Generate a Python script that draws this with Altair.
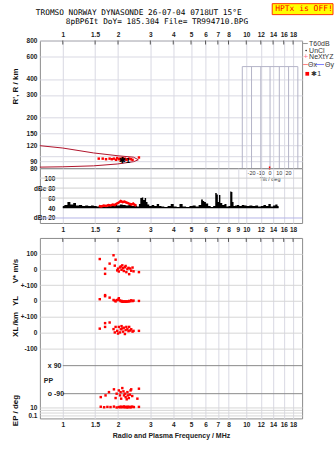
import math
import altair as alt
import pandas as pd

# ---------------- data ----------------
FREQ_TICKS = [1, 1.5, 2, 3, 4, 5, 6, 7, 8, 10, 12, 14, 16, 18]
FREQ_TICKS_DB = [1, 1.5, 2, 3, 4, 5, 6, 7, 8, 9, 10, 12, 14, 16, 18]
R_TICKS = [80, 90, 100, 120, 150, 200, 300, 400, 600, 800]
DB_TICKS = [20, 40, 60, 80, 100]
DB_LABELS = ["dBn 20", "40", "60", "dBe 80", "100"]
B_TICKS = [500, 400, 300, 200, 100, 0, -100, -474, -527]
B_LABELS = ["100", "0", "+-100", "0", "+-100", "0", "-100", "10", "0.1"]

# virtual-height trace (two branches)
UP_F = [0.75, 1.0, 1.47, 2.0, 2.43, 2.58]
UP_R = [120, 115, 105.3, 100, 97.5, 93]
LO_F = [0.75, 1.0, 1.47, 1.99, 2.43, 2.58]
LO_R = [81.5, 82, 83.4, 86.3, 89.9, 93]

# echoes in height panel
TOP_F = [1.57, 1.65, 1.72, 1.80, 1.85, 1.90, 1.95, 1.98, 2.02, 2.05, 2.08, 2.12, 2.15, 2.18, 2.22, 2.25, 2.30, 2.35, 2.40, 2.60]
TOP_R = [95, 95, 94, 95, 94, 95, 93, 96, 94, 95, 93, 96, 94, 95, 93, 94, 95, 94, 93, 97]

# amplitude (dB) trace
NOISE_F = [1.00, 1.04, 1.08, 1.12, 1.16, 1.20, 1.25, 1.30, 1.35, 1.40, 1.45, 1.50, 1.56, 1.62, 1.68,
           1.74, 1.80, 1.87, 1.94, 2.01, 2.08, 2.16, 2.24, 2.32, 2.40, 2.49, 2.58, 2.62, 2.67, 2.72,
           2.77, 2.82, 2.87, 2.92, 3.0, 3.1, 3.2, 3.3, 3.4, 3.5, 3.65, 3.8, 3.95, 4.1, 4.25,
           4.4, 4.6, 4.8, 5.0, 5.2, 5.4, 5.6, 5.75, 5.85, 5.95, 6.1, 6.3, 6.5, 6.7, 6.85,
           6.95, 7.05, 7.15, 7.3, 7.5, 7.7, 7.9, 8.1, 8.25, 8.35, 8.45, 8.6, 8.8, 9.0, 9.3,
           9.6, 9.9, 10.2, 10.6, 11.0, 11.4, 11.8, 12.2, 12.6, 13.0, 13.4, 13.8, 14.2, 14.6, 15.0]
NOISE_DB = [44, 46, 52, 47, 50, 45, 46, 44, 45, 44, 45, 44, 43, 45, 44,
            43, 45, 44, 46, 45, 47, 46, 45, 46, 44, 45, 43, 48, 60, 61,
            56, 60, 52, 47, 44, 46, 44, 48, 44, 43, 42, 44, 48, 43, 42,
            48, 43, 42, 44, 45, 43, 46, 57, 54, 52, 49, 44, 42, 44, 70,
            67, 52, 66, 50, 46, 48, 43, 44, 73, 72, 52, 44, 45, 46, 44,
            46, 45, 44, 45, 44, 45, 43, 44, 46, 44, 48, 43, 45, 47, 44]
ECHO_F = [1.57, 1.62, 1.67, 1.72, 1.77, 1.82, 1.87, 1.92, 1.97, 2.02, 2.07, 2.12, 2.17, 2.22, 2.27, 2.32, 2.37, 2.42, 2.47, 2.52]
ECHO_DB = [44, 43, 45, 44, 46, 45, 47, 46, 49, 51, 54, 52, 53, 51, 50, 48, 47, 49, 46, 45]

# velocity / location panels
VX_F = [1.59, 1.70, 1.70, 1.80, 1.89, 1.92, 1.94, 1.98, 2.00, 2.02, 2.05, 2.07, 2.09, 2.11,
        2.13, 2.15, 2.18, 2.20, 2.22, 2.25, 2.28, 2.30, 2.33, 2.36, 2.40, 2.43, 2.60]
V_STAR = [66, -28, 5, 37, 90, 24, 62, -6, 5, -13, 13, 19, -2, 26, 8, -10, 14, 22, -17, 3, 10, -30, 6, -8, 12, -12, -17]
YL = [11, 37, 30, 21, 6, 2, -3, 5, 8, 17, 3, -2, 0, -4, -5, -3, -4, -5, -3, -4, -3, 0, -2, 4, -1, 2, 0]
XL = [24, 59, 35, 63, 21, 0, 35, 10, -7, 35, 0, 20, 40, 25, 5, 30, -10, 15, 35, 20, 8, 35, 12, 20, 5, 10, 10]

PP_F = [1.61, 1.71, 1.785, 1.90, 1.94, 1.966, 2.02, 2.05, 2.066, 2.08, 2.11, 2.14, 2.155, 2.18,
        2.20, 2.23, 2.25, 2.26, 2.29, 2.32, 2.34, 2.36, 2.39, 2.55, 2.60]
PP_DEG = [-112, -101, -80, -62, -118, -90, -69, -101, -80, -122, -54, -75, -101, -90,
          -112, -126, -80, -101, -118, -96, -69, -62, -105, -122, -58]
EP_F = [1.61, 1.68, 1.75, 1.82, 1.90, 1.966, 2.02, 2.05, 2.066, 2.08, 2.11, 2.14, 2.155, 2.18,
        2.20, 2.23, 2.25, 2.26, 2.29, 2.32, 2.34, 2.36, 2.39, 2.44, 2.60]
EP_VAL = [12, 9, 11, 10, 13, 8, 10, 11, 9, 12, 10, 10, 14, 9, 11, 10, 8, 12, 10, 11, 9, 10, 13, 10, 11]

TILT_GRID = [-30, -20, -10, 0, 10, 20, 30]
TILT_LABELS = [-20, -10, 0, 10, 20]

# ---------------- layout / style ----------------
W = 263
H_R, H_DB, H_GAP, H_B = 128, 55, 15, 181
FDOM = [0.75, 20.15]
FONT = "Liberation Sans"
MONO = "DejaVu Sans Mono"
GRID = "#d9d9e3"
FRAME = "#8c8c8c"
TRACE = "#b0142c"
RED = "#ff0000"

xscale = alt.Scale(type="log", domain=FDOM, nice=False)


def label_expr(vals, labs):
    s = "''"
    for v, l in reversed(list(zip(vals, labs))):
        s = f"(abs(datum.value - ({v})) < 0.01 ? '{l}' : {s})"
    return s


def df(**cols):
    return pd.DataFrame(cols)


# ======== panel 1 : virtual height ========
X_R = alt.X("f:Q", scale=xscale, title=None,
            axis=alt.Axis(orient="top", values=FREQ_TICKS, format="~g", grid=True,
                          gridColor=GRID, labelPadding=3))
Y_R = alt.Y("r:Q", title=None,
            scale=alt.Scale(type="log", domain=[80, 800], nice=False),
            axis=alt.Axis(values=R_TICKS, format="d", grid=True, gridColor=GRID, labelPadding=3))

trace_df = pd.concat([
    df(f=UP_F, r=UP_R, branch="up"),
    df(f=LO_F, r=LO_R, branch="lo"),
])
trace = alt.Chart(trace_df).mark_line(color=TRACE, strokeWidth=1).encode(
    x=X_R, y=Y_R, detail="branch:N")

top_dots = alt.Chart(df(f=TOP_F, r=TOP_R)).mark_square(color=RED, size=6, opacity=1).encode(x=X_R, y=Y_R)

top_ticks = alt.Chart(df(f=FREQ_TICKS)).mark_rule(color="#555").encode(
    x=X_R, y=alt.value(0), y2=alt.value(4))


def text_layer(data, X, Y, **style):
    base = dict(font=FONT, fontSize=7, color="#111")
    base.update(style)
    return alt.Chart(data).mark_text(**base).encode(x=X, y=Y, text="t:N")


marker = text_layer(df(f=[2.17], r=[90.5], t=["✱1"]), X_R, Y_R, fontSize=8, fontWeight="bold", color="black")

title1 = text_layer(df(f=[0.713], r=[1317], t=["TROMSO NORWAY   DYNASONDE 26-07-04 0718UT 15°E"]),
                    X_R, Y_R, font=MONO, fontSize=7.8, align="left", baseline="middle", color="black")
title2 = text_layer(df(f=[1.038], r=[1114], t=["8pBP6It DoY= 185.304 File= TR994710.BPG"]),
                    X_R, Y_R, font=MONO, fontSize=7.8, align="left", baseline="middle", color="black")
hptx_box = alt.Chart(df(f=[13.85], f2=[29.7], r=[1556], r2=[1277])).mark_rect(
    fill="#ffff00", stroke="#ff3300", strokeWidth=1).encode(x=X_R, x2="f2:Q", y=Y_R, y2="r2:Q")
hptx_txt = text_layer(df(f=[14.38], r=[1410], t=["HPTx is OFF!"]), X_R, Y_R, font=MONO, fontSize=8,
                      align="left", baseline="middle", color="#ff0000")

r_title = text_layer(df(f=[0.555], r=[349], t=["R', R / km"]), X_R, Y_R, fontSize=8, fontWeight="bold",
                     angle=270, baseline="middle", color="#111")

# legend (outside right)
leg_lines = alt.Chart(df(f=[20.4, 20.4, 23.92], f2=[21.64, 21.64, 26.54], r=[758, 519, 519],
                         c=["#999999", "#ff8080", "#8080ff"])).mark_rule(strokeWidth=1).encode(
    x=X_R, x2="f2:Q", y=Y_R, color=alt.Color("c:N", scale=None))
leg_dot = alt.Chart(df(f=[21.19], r=[668])).mark_circle(size=2, color="black", opacity=1).encode(x=X_R, y=Y_R)
leg_plus = text_layer(df(f=[21.1], r=[592], t=["+"]), X_R, Y_R, fontSize=8, color="#ff7090", baseline="middle")
leg_sq = alt.Chart(df(f=[21.5], r=[439])).mark_square(size=14, color=RED, opacity=1).encode(x=X_R, y=Y_R)
leg_txt = text_layer(df(f=[22.0, 22.0, 22.0, 21.73, 26.87, 22.6],
                        r=[758, 668, 592, 519, 519, 439],
                        t=["T60dB", "UnCl", "NeXtYZ", "Θx", "Θy", "✱1"]),
                     X_R, Y_R, align="left", baseline="middle", color="#333", fontSize=7)

# tilt inset (independent x scale)
X_T = alt.X("t:Q", title=None, axis=None, scale=alt.Scale(domain=[-248.6, 34.6], nice=False, zero=False))
inset_rules = alt.Chart(df(t=TILT_GRID, r=[80] * len(TILT_GRID), r2=[500] * len(TILT_GRID))).mark_rule(
    color="#b4b4c8", strokeWidth=1).encode(x=X_T, y=Y_R, y2="r2:Q")
inset_top = alt.Chart(df(t=[-30], t2=[30], r=[500])).mark_rule(color="#b4b4c8").encode(
    x=X_T, x2="t2:Q", y=Y_R)
inset_red = alt.Chart(df(t=[-0.5], r=[78], r2=[82.5])).mark_rule(color=RED, strokeWidth=1.5).encode(
    x=X_T, y=Y_R, y2="r2:Q")
inset_lab = alt.Chart(df(t=TILT_LABELS, r=[73] * len(TILT_LABELS), lab=[str(v) for v in TILT_LABELS])).mark_text(
    font=FONT, fontSize=5.5, color="#333", baseline="middle").encode(x=X_T, y=Y_R, text="lab:N")
inset_title = alt.Chart(df(t=[0], r=[65.5], lab=["Tilt / deg"])).mark_text(
    font=FONT, fontSize=5.5, color="#333", baseline="middle").encode(x=X_T, y=Y_R, text="lab:N")
inset = alt.layer(inset_rules, inset_top, inset_red, inset_lab, inset_title)

main_r = alt.layer(trace, top_dots, top_ticks, marker, title1, title2, hptx_box, hptx_txt, r_title,
                   leg_lines, leg_dot, leg_plus, leg_sq, leg_txt)
r_chart = alt.layer(main_r, inset).resolve_scale(x="independent").properties(width=W, height=H_R)

# ======== panel 2 : amplitude ========
X_D = alt.X("f:Q", scale=xscale, title=None,
            axis=alt.Axis(orient="bottom", values=FREQ_TICKS_DB, format="~g", grid=True,
                          gridColor=GRID, labelPadding=4))
Y_D = alt.Y("db:Q", title=None, scale=alt.Scale(domain=[10, 120], nice=False, zero=False),
            axis=alt.Axis(values=DB_TICKS, labelExpr=label_expr(DB_TICKS, DB_LABELS), offset=-17,
                          grid=False, labelPadding=2))

db_grid = alt.Chart(df(db=[60, 80, 100])).mark_rule(color="#cfcfcf").encode(y=Y_D)
db_grid20 = alt.Chart(df(db=[20])).mark_rule(color="#b4b4e6").encode(y=Y_D)
noise = alt.Chart(df(f=NOISE_F, db=NOISE_DB, base=[41] * len(NOISE_F))).mark_area(
    color="black", interpolate="step", opacity=1).encode(x=X_D, y=Y_D, y2="base:Q")
noise_base = alt.Chart(df(f=[1.0], f2=[15.0], db=[41])).mark_rule(color="black", strokeWidth=1.2).encode(
    x=X_D, x2="f2:Q", y=Y_D)
echo_amp = alt.Chart(df(f=ECHO_F, db=ECHO_DB)).mark_line(color=RED, strokeWidth=2.5).encode(x=X_D, y=Y_D)

db_chart = alt.layer(db_grid, db_grid20, noise, noise_base, echo_amp).properties(width=W, height=H_DB)

# ======== spacer ========
spacer = alt.Chart(df(a=[0])).mark_point(opacity=0).encode(
    x=alt.X("a:Q", axis=None), y=alt.Y("a:Q", axis=None)).properties(
    width=W, height=H_GAP, view=alt.ViewBackground(stroke=None))

# ======== panel 3 : velocity, location, polarisation ========
X_B = alt.X("f:Q", scale=xscale, title="Radio and Plasma Frequency / MHz",
            axis=alt.Axis(orient="bottom", values=FREQ_TICKS, format="~g", grid=True, gridColor=GRID,
                          labelPadding=3, titlePadding=4, titleFont=FONT, titleFontSize=7,
                          titleFontWeight="bold", titleColor="#222"))
Y_B = alt.Y("y:Q", title=None, scale=alt.Scale(domain=[-546, 600], nice=False, zero=False),
            axis=alt.Axis(values=B_TICKS, labelExpr=label_expr(B_TICKS, B_LABELS), grid=True,
                          gridColor="#d6d6d6", labelPadding=3))

b_light = alt.Chart(df(y=[-495, -512])).mark_rule(color="#d6d6d6").encode(y=Y_B)
b_dark = alt.Chart(df(f=[1.0, 1.0], f2=[20.15, 20.15], y=[-211, -389])).mark_rule(
    color="#8a8a8a", strokeWidth=1).encode(x=X_B, x2="f2:Q", y=Y_B)
b_ticks = alt.Chart(df(f=FREQ_TICKS)).mark_rule(color="#555").encode(
    x=X_B, y=alt.value(0), y2=alt.value(4))


def scatter(data, expr):
    return alt.Chart(data).transform_calculate(y=expr).mark_square(
        color=RED, size=6, opacity=1).encode(x=X_B, y=Y_B)


sc_v = scatter(df(f=VX_F, v=V_STAR), "datum.v + 400")
sc_yl = scatter(df(f=VX_F, v=YL), "datum.v + 200")
sc_xl = scatter(df(f=VX_F, v=XL), "datum.v")
sc_pp = scatter(df(f=PP_F, v=PP_DEG), "-300 + datum.v * 0.989")
sc_ep = scatter(df(f=EP_F, v=EP_VAL), "-527 + (log(datum.v) / LN10 + 1) * 26.5")

b_in_text = text_layer(df(f=[0.788, 0.829, 0.829], y=[-306, -211, -389], t=["PP", "x 90", "o -90"]),
                       X_B, Y_B, align="left", baseline="middle", fontWeight="bold", color="#222")
b_rot = text_layer(df(f=[0.555, 0.555, 0.555, 0.555, 0.555], y=[390, 200, 87, 4, -496],
                      t=["V* m/s", "YL", "/km", "XL", "EP / deg"]),
                   X_B, Y_B, angle=270, baseline="middle", fontSize=8, fontWeight="bold", color="#111")

b_chart = alt.layer(b_light, b_dark, b_ticks, sc_v, sc_yl, sc_xl, sc_pp, sc_ep, b_in_text, b_rot).properties(
    width=W, height=H_B)

chart = alt.vconcat(r_chart, db_chart, spacer, b_chart, spacing=0, bounds="flush").properties(
    padding={"left": 11, "top": 2, "right": 0, "bottom": 0},
    background="white",
).configure_view(stroke=FRAME, strokeWidth=1).configure_axis(
    labelFont=FONT, labelFontSize=6.5, labelFontWeight="bold", labelColor="#222",
    domain=False, ticks=False,
)

chart.save("out.html", embed_options={"renderer": "svg", "actions": False})
